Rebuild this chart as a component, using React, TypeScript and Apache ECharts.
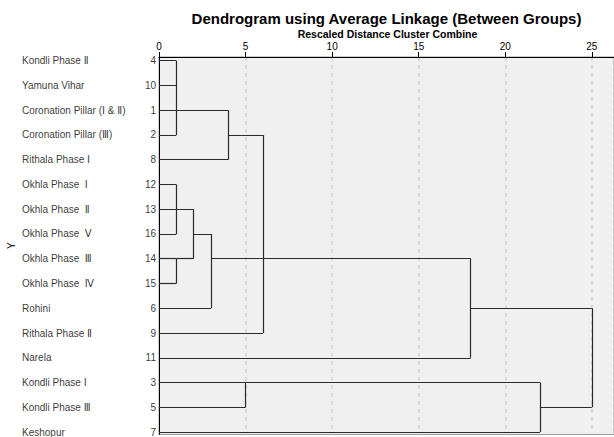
import React, { useEffect, useRef } from "react";
import * as echarts from "echarts";

const leafIds = [4, 10, 1, 2, 8, 12, 13, 16, 14, 15, 6, 9, 11, 3, 5, 7];
const leafNames = [
  "Kondli Phase Ⅱ",
  "Yamuna Vihar",
  "Coronation Pillar (Ⅰ & Ⅱ)",
  "Coronation Pillar (Ⅲ)",
  "Rithala Phase Ⅰ",
  "Okhla Phase  Ⅰ",
  "Okhla Phase  Ⅱ",
  "Okhla Phase  Ⅴ",
  "Okhla Phase  Ⅲ",
  "Okhla Phase  Ⅳ",
  "Rohini",
  "Rithala Phase Ⅱ",
  "Narela",
  "Kondli Phase Ⅰ",
  "Kondli Phase Ⅲ",
  "Keshopur",
];
// children: "L#" = leaf row, "M#" = earlier merge
const mergeChildren = [
  ["L0", "L1", "L2", "L3"],
  ["M0", "L4"],
  ["L5", "L6", "L7"],
  ["L8", "L9"],
  ["M2", "M3"],
  ["M4", "L10"],
  ["M1", "M5", "L11"],
  ["M6", "L12"],
  ["L13", "L14"],
  ["M8", "L15"],
  ["M7", "M9"],
];
const mergeHeights = [1, 4, 1, 1, 2, 3, 6, 18, 5, 22, 25];
const mergeRows = [2, 3, 6, 8, 7, 8, 8, 10, 13, 14, 12];
const xTicks = [0, 5, 10, 15, 20, 25];

const titleText = "Dendrogram using Average Linkage (Between Groups)";
const subtitleText = "Rescaled Distance Cluster Combine";

const FONT = "'Liberation Sans', Arial, 'DejaVu Sans', sans-serif";

function buildSegments() {
  const segs: { coords: number[][] }[] = [];
  const info = (ref: string) => {
    const idx = parseInt(ref.slice(1), 10);
    if (ref[0] === "L") return { h: 0, r: idx };
    return { h: mergeHeights[idx], r: mergeRows[idx] };
  };
  mergeChildren.forEach((children, k) => {
    const hk = mergeHeights[k];
    let minR = Infinity;
    let maxR = -Infinity;
    children.forEach((c) => {
      const { h, r } = info(c);
      segs.push({ coords: [[h, r], [hk, r]] });
      minR = Math.min(minR, r);
      maxR = Math.max(maxR, r);
    });
    segs.push({ coords: [[hk, minR], [hk, maxR]] });
  });
  return segs;
}

export default function App() {
  const ref = useRef<HTMLDivElement>(null);
  useEffect(() => {
    if (!ref.current) return;
    const chart = echarts.init(ref.current, undefined, { renderer: "svg" });
    const option: any = {
      animation: false,
      textStyle: { fontFamily: FONT },
      graphic: [
        {
          type: "text",
          x: 386.5,
          y: 18,
          style: {
            text: titleText,
            font: `bold 15px ${FONT}`,
            fill: "#000",
            textAlign: "center",
            textVerticalAlign: "middle",
          },
        },
        {
          type: "text",
          x: 387.5,
          y: 33.5,
          style: {
            text: subtitleText,
            font: `bold 10.5px ${FONT}`,
            fill: "#000",
            textAlign: "center",
            textVerticalAlign: "middle",
          },
        },
      ],
      grid: {
        left: 159,
        right: 0,
        top: 57,
        bottom: 2.5,
        containLabel: false,
        outerBoundsMode: "none",
        show: true,
        backgroundColor: "#f0f0f0",
        borderColor: "#9a9a9a",
        borderWidth: 1,
      },
      xAxis: {
        type: "value",
        position: "top",
        min: 0,
        max: 26.28,
        interval: 5,
        axisLine: { show: true, onZero: false, lineStyle: { color: "#000", width: 1 } },
        axisTick: { show: true, length: 5, lineStyle: { color: "#000" } },
        axisLabel: {
          show: true,
          fontSize: 10,
          color: "#000",
          margin: 6,
          showMaxLabel: false,
          formatter: (v: number) => (xTicks.includes(v) ? String(v) : ""),
        },
        splitLine: {
          show: true,
          lineStyle: { color: "#d2d2d2", width: 1.5, type: [4, 4] },
        },
      },
      yAxis: {
        type: "value",
        inverse: true,
        min: -0.15,
        max: 15.1,
        name: "Y",
        nameLocation: "middle",
        nameGap: 143,
        nameRotate: 90,
        nameTextStyle: { fontSize: 10, color: "#000" },
        axisLine: { show: true, onZero: false, lineStyle: { color: "#000", width: 1 } },
        axisTick: { show: false },
        axisLabel: { show: false },
        splitLine: { show: false },
      },
      series: [
        {
          type: "lines",
          coordinateSystem: "cartesian2d",
          silent: true,
          lineStyle: { color: "#2b2b2b", width: 1.2, opacity: 1 },
          data: buildSegments(),
          z: 3,
        },
        {
          type: "scatter",
          silent: true,
          symbolSize: 0,
          data: leafIds.map((id, i) => [0, i]),
          label: {
            show: true,
            position: "left",
            distance: 3,
            formatter: (p: any) => {
              const i = p.dataIndex;
              return `{n|${leafNames[i]}}{c|${leafIds[i]}}`;
            },
            rich: {
              n: { width: 114, align: "left", fontSize: 10, color: "#000", fontFamily: FONT },
              c: { width: 20, align: "right", fontSize: 10, color: "#000", fontFamily: FONT },
            },
          },
          z: 4,
        },
      ],
    };
    chart.setOption(option);
    return () => chart.dispose();
  }, []);
  return (
    <div
      ref={ref}
      style={{ position: "absolute", left: 0, top: 0, width: 614, height: 437 }}
    />
  );
}
